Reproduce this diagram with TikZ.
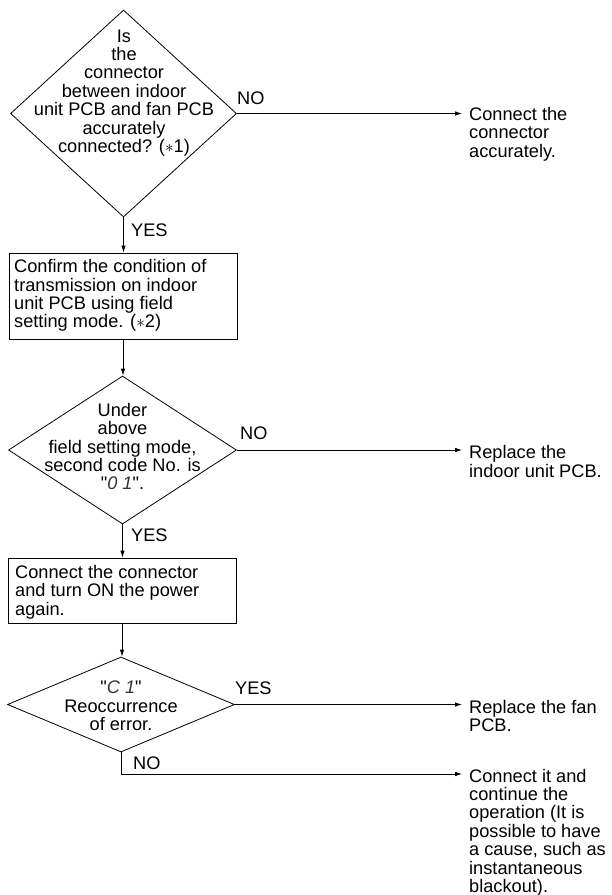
\documentclass[tikz,border=0pt]{standalone}
\usepackage{fontspec}
\setmainfont{Liberation Sans}
\usetikzlibrary{shapes.geometric,arrows.meta}
\newcommand{\qd}{\textquotedbl}
\begin{document}
\begin{tikzpicture}[x=1pt,y=-1pt,
  every node/.style={font=\fontsize{18.2}{18.4}\selectfont},
  dia/.style={draw,diamond,inner sep=0pt,line width=0.8pt},
  box/.style={draw,rectangle,inner sep=0pt,line width=0.8pt},
  txt/.style={align=center,inner sep=0pt},
  ltxt/.style={align=left,inner sep=0pt,anchor=west},
  lbl/.style={inner sep=0pt,anchor=west},
  seg/.style={font=\fontsize{16}{16}\selectfont\itshape\color{black!80}},
  arr/.style={line width=0.8pt,-{Latex[length=7pt,width=4.5pt]}}
]
\useasboundingbox (0,0) rectangle (611,895);

% decision 1
\node[dia,minimum width=226pt,minimum height=207pt] (d1) at (123.5,113.5) {};
\node[txt] (d1t) at (124,93) {Is\\the\\connector\\between indoor\\unit PCB and fan PCB\\accurately\\connected? ($\ast$1)};

% box 1
\node[box,minimum width=228pt,minimum height=86pt] (b1) at (123,296) {};
\node[ltxt] (b1t) at (14,295.5) {Confirm the condition of\\transmission on indoor\\unit PCB using field\\setting mode. ($\ast$2)};

% decision 2
\node[dia,minimum width=228pt,minimum height=148pt] (d2) at (122.5,450) {};
\node[txt] (d2t) at (122.5,446.5) {Under\\above\\field setting mode,\\second code No. is\\\qd{\itshape\color{black!80} 0 1}\qd.};

% box 2
\node[box,minimum width=228pt,minimum height=65pt] (b2) at (122,590.5) {};
\node[ltxt] (b2t) at (15,592) {Connect the connector\\and turn ON the power\\again.};

% decision 3
\node[dia,minimum width=227pt,minimum height=95pt] (d3) at (121,704.5) {};
\node[txt] (d3t) at (121,706) {\qd{\itshape\color{black!80} C 1}\qd\\Reoccurrence\\of error.};

% right-hand results
\node[ltxt] (r1) at (469,134) {Connect the\\connector\\accurately.};
\node[ltxt] (r2) at (469,461.5) {Replace the\\indoor unit PCB.};
\node[ltxt] (r3) at (469,716) {Replace the fan\\PCB.};
\node[ltxt] (r4) at (469,832.5) {Connect it and\\continue the\\operation (It is\\possible to have\\a cause, such as\\instantaneous\\blackout).};

% connectors
\draw[arr] (d1.south) -- (d1.south |- b1.north);
\draw[arr] (b1.south) -- (b1.south |- d2.north);
\draw[arr] (d2.south) -- (d2.south |- b2.north);
\draw[arr] (b2.south) -- (b2.south |- d3.north);
\draw[arr] (d1.east) -- ([xshift=-7pt]r1.west |- d1.east);
\draw[arr] (d2.east) -- ([xshift=-7pt]r2.west |- d2.east);
\draw[arr] (d3.east) -- ([xshift=-7pt]r3.west |- d3.east);
\coordinate (c4) at (d3.south |- 0,774);
\draw[arr] (d3.south) -- (c4) -- ([xshift=-7pt]r4.west |- c4);

% labels
\node[lbl] (l1) at (237,98) {NO};
\node[lbl] (l2) at (131,230) {YES};
\node[lbl] (l3) at (240,433) {NO};
\node[lbl] (l4) at (131,535) {YES};
\node[lbl] (l5) at (235,688) {YES};
\node[lbl] (l6) at (133,763) {NO};
\end{tikzpicture}
\end{document}
